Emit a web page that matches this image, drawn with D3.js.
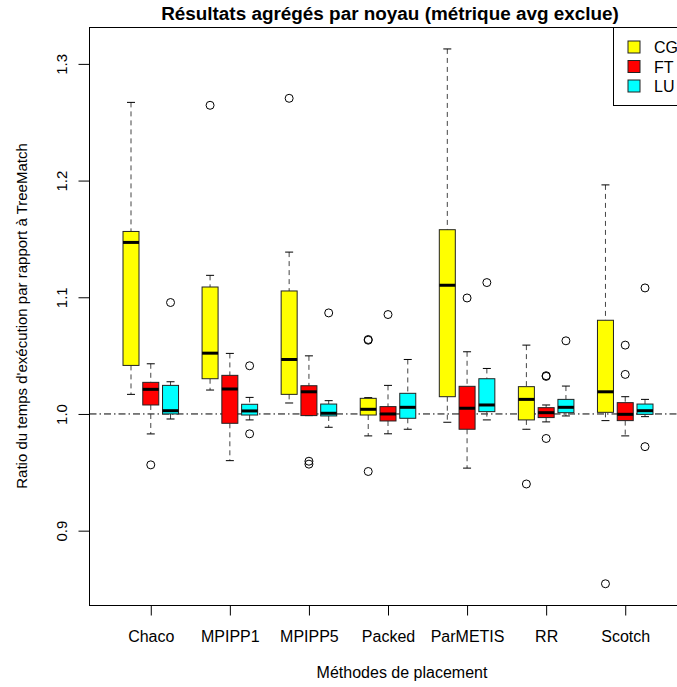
<!DOCTYPE html>
<html>
<head>
<meta charset="utf-8">
<script src="https://cdn.jsdelivr.net/npm/d3@7/dist/d3.min.js"></script>
<style>
  body { margin: 0; background: #fff; }
  svg { display: block; font-family: "Liberation Sans", Arial, sans-serif; }
</style>
</head>
<body>
<svg id="chart"></svg>
<script>
// placement methods (x groups) and kernels (series)
var methods = ["Chaco", "MPIPP1", "MPIPP5", "Packed", "ParMETIS", "RR", "Scotch"];
var kernels = ["CG", "FT", "LU"];
var kernelColors = ["#ffff00", "#ff0000", "#00ffff"];

// five-number summaries per method: [whisker low, Q1, median, Q3, whisker high]
var cgStats = [
  [1.0168, 1.0416, 1.147, 1.1564, 1.267],
  [1.0205, 1.0302, 1.0521, 1.1088, 1.1188],
  [1.0094, 1.0168, 1.0467, 1.1054, 1.1387],
  [0.9812, 0.9991, 1.004, 1.0134, 1.014],
  [0.9929, 1.0148, 1.1103, 1.1579, 1.3128],
  [0.9869, 0.9949, 1.0125, 1.0234, 1.059],
  [0.9943, 1.0014, 1.019, 1.0803, 1.1963]
];
var ftStats = [
  [0.9829, 1.0077, 1.0211, 1.0271, 1.043],
  [0.960, 0.992, 1.0214, 1.0331, 1.0519],
  [0.9986, 0.9986, 1.019, 1.0242, 1.0498],
  [0.983, 0.994, 1.000, 1.0063, 1.0245],
  [0.9536, 0.9869, 1.0049, 1.0237, 1.0533],
  [0.9932, 0.9969, 1.0011, 1.0054, 1.0077],
  [0.9812, 0.9943, 0.9997, 1.0097, 1.0148]
];
var luStats = [
  [0.9957, 1.000, 1.0028, 1.0245, 1.0276],
  [0.9949, 0.9991, 1.0026, 1.0083, 1.0142],
  [0.9886, 0.9983, 1.0006, 1.0085, 1.0114],
  [0.9869, 0.9963, 1.0057, 1.0177, 1.0467],
  [0.9949, 1.002, 1.0077, 1.0302, 1.039],
  [0.9983, 1.0011, 1.0057, 1.0125, 1.0239],
  [0.9977, 0.9997, 1.0028, 1.0085, 1.0125]
];

// outliers per method
var cgOut = [[], [1.2645], [1.2705], [1.0632, 1.0638, 0.9507], [], [0.940], [0.8545]];
var ftOut = [[0.9564], [], [0.957, 0.9595], [1.0852], [1.0994], [1.0322, 1.0328, 0.979], [1.059, 1.0339]];
var luOut = [[1.0955], [1.0413, 0.983], [1.0866], [], [1.1126], [1.0627], [1.108, 0.972]];

var yTicks = [0.9, 1.0, 1.1, 1.2, 1.3];

var W = 677, H = 687;
var svg = d3.select("#chart").attr("width", W).attr("height", H);

var plotLeft = 89.5, plotRight = 715, plotTop = 27, plotBottom = 605;

// box slots: 4 slots per method (3 boxes + a gap)
var x = d3.scaleLinear().domain([1, 27]).range([131, 645]);
var y = d3.scaleLinear().domain([0.8363, 1.3316]).range([plotBottom, plotTop]);

var boxW = 16, capW = 8;

// reference line at 1.0
svg.append("line")
  .attr("x1", plotLeft).attr("x2", plotRight)
  .attr("y1", y(1)).attr("y2", y(1))
  .attr("stroke", "#000").attr("stroke-width", 1)
  .attr("stroke-dasharray", "7,3,1.5,3");

var allStats = [cgStats, ftStats, luStats];
var allOut = [cgOut, ftOut, luOut];

var boxes = [];
kernels.forEach(function (k, ki) {
  methods.forEach(function (m, mi) {
    boxes.push({ slot: 1 + 4 * mi + ki, s: allStats[ki][mi], out: allOut[ki][mi], color: kernelColors[ki] });
  });
});

var g = svg.append("g");
var b = g.selectAll(".box").data(boxes).enter().append("g").attr("class", "box");

// whiskers (dashed)
b.append("line")
  .attr("x1", function (d) { return x(d.slot); }).attr("x2", function (d) { return x(d.slot); })
  .attr("y1", function (d) { return y(d.s[4]); }).attr("y2", function (d) { return y(d.s[3]); })
  .attr("stroke", "#444").attr("stroke-dasharray", "5,4");
b.append("line")
  .attr("x1", function (d) { return x(d.slot); }).attr("x2", function (d) { return x(d.slot); })
  .attr("y1", function (d) { return y(d.s[1]); }).attr("y2", function (d) { return y(d.s[0]); })
  .attr("stroke", "#444").attr("stroke-dasharray", "5,4");

// caps
[0, 4].forEach(function (j) {
  b.append("line")
    .attr("x1", function (d) { return x(d.slot) - capW / 2; })
    .attr("x2", function (d) { return x(d.slot) + capW / 2; })
    .attr("y1", function (d) { return y(d.s[j]); }).attr("y2", function (d) { return y(d.s[j]); })
    .attr("stroke", "#000");
});

// boxes
b.append("rect")
  .attr("x", function (d) { return x(d.slot) - boxW / 2; })
  .attr("width", boxW)
  .attr("y", function (d) { return y(d.s[3]); })
  .attr("height", function (d) { return Math.max(0.5, y(d.s[1]) - y(d.s[3])); })
  .attr("fill", function (d) { return d.color; })
  .attr("stroke", "#222").attr("stroke-width", 1);

// medians
b.append("line")
  .attr("x1", function (d) { return x(d.slot) - boxW / 2; })
  .attr("x2", function (d) { return x(d.slot) + boxW / 2; })
  .attr("y1", function (d) { return y(d.s[2]); }).attr("y2", function (d) { return y(d.s[2]); })
  .attr("stroke", "#000").attr("stroke-width", 3);

// outliers
b.each(function (d) {
  d3.select(this).selectAll("circle").data(d.out).enter().append("circle")
    .attr("cx", x(d.slot))
    .attr("cy", function (v) { return y(v); })
    .attr("r", 4)
    .attr("fill", "none").attr("stroke", "#000");
});

// plot frame
svg.append("rect")
  .attr("x", plotLeft).attr("y", plotTop + 0.5)
  .attr("width", plotRight - plotLeft).attr("height", plotBottom - plotTop)
  .attr("fill", "none").attr("stroke", "#000");

// x axis
var xAxis = svg.append("g")
  .attr("transform", "translate(0," + (plotBottom + 0.5) + ")")
  .call(d3.axisBottom(x)
    .tickValues(methods.map(function (m, i) { return 2 + 4 * i; }))
    .tickFormat(function (v) { return methods[(v - 2) / 4]; })
    .tickSize(10));
xAxis.select(".domain").remove();
xAxis.selectAll("text").attr("y", 36).attr("dy", 0)
  .attr("font-size", 16).attr("fill", "#000").attr("font-family", "Liberation Sans, Arial, sans-serif");

// y axis
var yAxis = svg.append("g")
  .attr("transform", "translate(" + plotLeft + ",0)")
  .call(d3.axisLeft(y).tickValues(yTicks).tickFormat(d3.format(".1f")).tickSize(11));
yAxis.select(".domain").remove();
yAxis.selectAll("text")
  .attr("x", 0).attr("y", 0).attr("dy", 0)
  .attr("text-anchor", "middle")
  .attr("transform", "translate(-22.5,0) rotate(-90)")
  .attr("font-size", 15).attr("fill", "#000").attr("font-family", "Liberation Sans, Arial, sans-serif");

// titles
svg.append("text")
  .attr("x", 390).attr("y", 20)
  .attr("text-anchor", "middle")
  .attr("font-size", 18.9).attr("font-weight", "bold")
  .text("Résultats agrégés par noyau (métrique avg exclue)");

svg.append("text")
  .attr("x", 402).attr("y", 678)
  .attr("text-anchor", "middle")
  .attr("font-size", 16)
  .text("Méthodes de placement");

svg.append("text")
  .attr("transform", "translate(27," + ((plotTop + plotBottom) / 2) + ") rotate(-90)")
  .attr("text-anchor", "middle")
  .attr("font-size", 15)
  .text("Ratio du temps d'exécution par rapport à TreeMatch");

// legend
var leg = svg.append("g").attr("transform", "translate(613.5," + (plotTop + 0.5) + ")");
leg.append("rect")
  .attr("width", 120).attr("height", 78)
  .attr("fill", "#fff").attr("stroke", "#000");
var li = leg.selectAll(".li").data(kernels).enter().append("g")
  .attr("transform", function (d, i) { return "translate(0," + (19.5 + i * 19.5) + ")"; });
li.append("rect")
  .attr("x", 14.5).attr("y", -6).attr("width", 12).attr("height", 12)
  .attr("fill", function (d, i) { return kernelColors[i]; })
  .attr("stroke", "#222");
li.append("text")
  .attr("x", 40.5).attr("y", 6)
  .attr("font-size", 16)
  .text(function (d) { return d; });
</script>
</body>
</html>
